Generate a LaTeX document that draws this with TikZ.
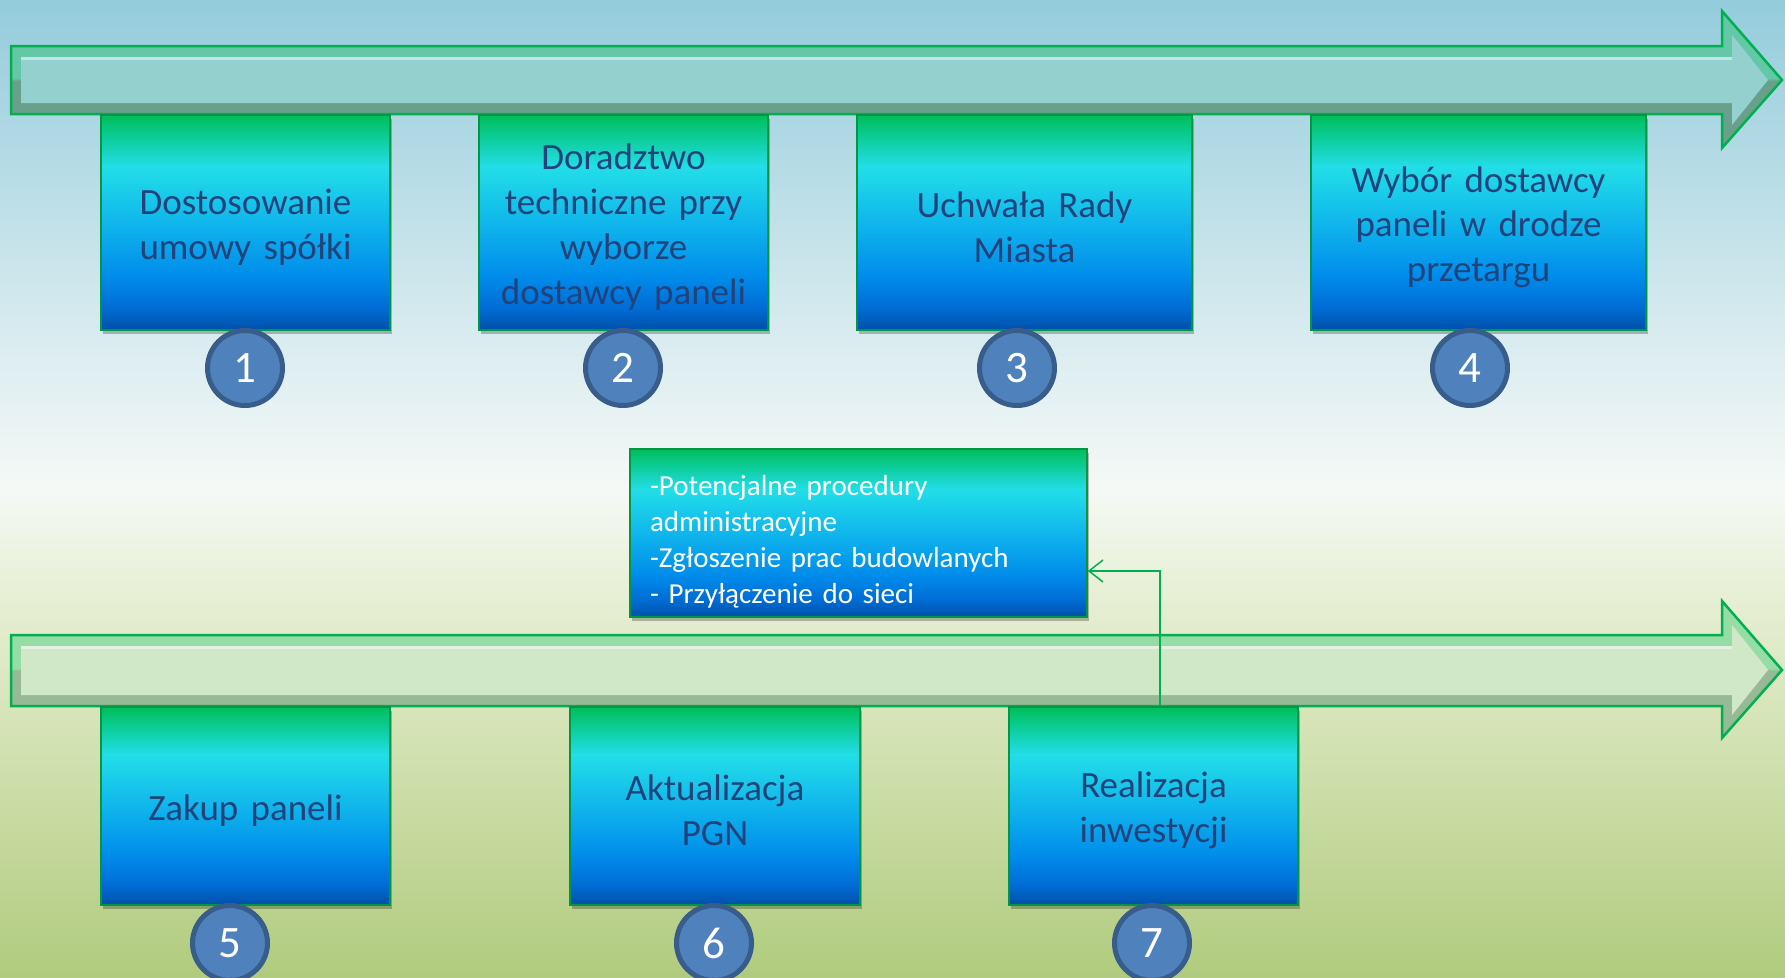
\documentclass[tikz,border=0pt]{standalone}
\usepackage{fontspec}
\setmainfont{Carlito}
\usetikzlibrary{arrows.meta,shadows}
\definecolor{bgtop}{RGB}{148,204,220}
\definecolor{bgq}{RGB}{218,236,240}
\definecolor{bgmid}{RGB}{245,249,246}
\definecolor{bgmid2}{RGB}{232,240,214}
\definecolor{bgq2}{RGB}{205,222,170}
\definecolor{bgbot}{RGB}{176,203,125}
\definecolor{bxg}{RGB}{0,190,90}
\definecolor{bxg2}{RGB}{12,204,150}
\definecolor{bxc}{RGB}{34,222,232}
\definecolor{bxm}{RGB}{16,182,236}
\definecolor{bxb}{RGB}{0,140,235}
\definecolor{bxb2}{RGB}{0,108,212}
\definecolor{bxd}{RGB}{0,80,168}
\definecolor{boxedge}{RGB}{0,150,70}
\definecolor{txtblue}{RGB}{33,66,122}
\definecolor{circfill}{RGB}{79,129,189}
\definecolor{circedge}{RGB}{56,93,138}
\definecolor{conngreen}{RGB}{0,176,80}
\definecolor{arredge}{RGB}{0,176,80}
\definecolor{atl}{RGB}{100,200,168}
\definecolor{atd}{RGB}{105,160,140}
\definecolor{atb}{RGB}{147,208,206}
\definecolor{abl}{RGB}{150,220,165}
\definecolor{abd}{RGB}{150,185,150}
\definecolor{abb}{RGB}{208,232,200}
\pgfdeclareverticalshading{bgshade}{100bp}{color(0bp)=(bgbot); color(25bp)=(bgbot); color(35bp)=(bgq2); color(45bp)=(bgmid2); color(50bp)=(bgmid); color(57.5bp)=(bgq); color(75bp)=(bgtop); color(100bp)=(bgtop)}
\pgfdeclareverticalshading{boxshade}{100bp}{color(0bp)=(bxd); color(25bp)=(bxd); color(30bp)=(bxb2); color(37.5bp)=(bxb); color(50bp)=(bxm); color(63bp)=(bxc); color(70bp)=(bxg2); color(75bp)=(bxg); color(100bp)=(bxg)}
\pgfdeclareverticalshading{arrtshade}{100bp}{color(0bp)=(atd); color(49.5bp)=(atd); color(50.5bp)=(atl); color(100bp)=(atl)}
\pgfdeclareverticalshading{arrbshade}{100bp}{color(0bp)=(abd); color(49.5bp)=(abd); color(50.5bp)=(abl); color(100bp)=(abl)}
\tikzset{
  stepbox/.style={draw=boxedge, line width=1.5pt, shading=boxshade, inner sep=0pt,
    text=txtblue, font=\fontsize{37}{44.8}\selectfont, align=center, text width=275pt,
    execute at begin node={\rule{0pt}{35pt}},
    drop shadow={shadow xshift=2pt, shadow yshift=-4pt, opacity=0.25, fill=black}},
  notebox/.style={draw=boxedge, line width=1.5pt, shading=boxshade, inner xsep=20pt, inner ysep=0pt,
    text=white, font=\fontsize{29}{36}\selectfont, align=left,
    execute at begin node={\rule{0pt}{37pt}},
    drop shadow={shadow xshift=2pt, shadow yshift=-4pt, opacity=0.25, fill=black}},
  numcirc/.style={circle, fill=circfill, draw=circedge, line width=5pt, minimum size=75pt,
    inner sep=0pt, text=white, font=\fontsize{45}{45}\selectfont},
  conn/.style={draw=conngreen, line width=1.5pt, -{Straight Barb[length=14pt,width=22pt]}},
  arrout/.style={draw=arredge, line width=2.5pt, line join=miter}
}
\begin{document}
\begin{tikzpicture}[x=1pt,y=-1pt]
\useasboundingbox (0,0) rectangle (1785,977);
\shade[shading=bgshade] (0,0) rectangle (1785,977);

% top timeline arrow
\shade[shading=arrtshade] (11,46) -- (1722,46) -- (1722,11) -- (1782,80) -- (1722,148) -- (1722,114) -- (11,114) -- cycle;
\fill[atb] (21,57) -- (1732,57) -- (1732,35) -- (1768,80) -- (1732,125) -- (1732,103) -- (21,103) -- cycle;
\draw[white, opacity=0.45, line width=3pt] (21,58) -- (1732,58);
\draw[arrout] (11,46) -- (1722,46) -- (1722,11) -- (1782,80) -- (1722,148) -- (1722,114) -- (11,114) -- cycle;

% bottom timeline arrow
\shade[shading=arrbshade] (11,635) -- (1722,635) -- (1722,601) -- (1782,670) -- (1722,738) -- (1722,706) -- (11,706) -- cycle;
\fill[abb] (21,646) -- (1732,646) -- (1732,625) -- (1768,670) -- (1732,715) -- (1732,695) -- (21,695) -- cycle;
\draw[white, opacity=0.45, line width=3pt] (21,647) -- (1732,647);
\draw[arrout] (11,635) -- (1722,635) -- (1722,601) -- (1782,670) -- (1722,738) -- (1722,706) -- (11,706) -- cycle;

% top boxes
\node[stepbox, minimum width=289pt, minimum height=215pt] (b1) at (245.5,222.5) {Dostosowanie\\umowy spółki};
\node[stepbox, minimum width=289pt, minimum height=215pt] (b2) at (623.5,222.5) {Doradztwo\\techniczne przy\\wyborze\\dostawcy paneli};
\node[stepbox, minimum width=335pt, minimum height=215pt, text width=321pt] (b3) at (1024.5,222.5) {Uchwała Rady\\Miasta};
\node[stepbox, minimum width=335pt, minimum height=215pt, text width=321pt] (b4) at (1478.5,222.5) {Wybór dostawcy\\paneli w drodze\\przetargu};

\node[numcirc] (c1) at (245,368) {1};
\node[numcirc] (c2) at (623,368) {2};
\node[numcirc] (c3) at (1017,368) {3};
\node[numcirc] (c4) at (1470,368) {4};

% note box
\node[notebox, minimum width=457pt, minimum height=168pt, text width=417pt] (mid) at (858.5,533) {-Potencjalne procedury\\administracyjne\\-Zgłoszenie prac budowlanych\\- Przyłączenie do sieci};

% bottom boxes
\node[stepbox, minimum width=289pt, minimum height=198pt] (b5) at (245.5,806) {Zakup paneli};
\node[stepbox, minimum width=290pt, minimum height=198pt] (b6) at (715,806) {Aktualizacja\\PGN};
\node[stepbox, minimum width=289pt, minimum height=198pt] (b7) at (1153.5,806) {Realizacja\\inwestycji};

\node[numcirc] (c5) at (230,943) {5};
\node[numcirc] (c6) at (714,943) {6};
\node[numcirc] (c7) at (1152,943) {7};

% connector
\draw[conn] ([xshift=6.5pt]b7.north) |- ([yshift=-38pt]mid.east);
\end{tikzpicture}
\end{document}
